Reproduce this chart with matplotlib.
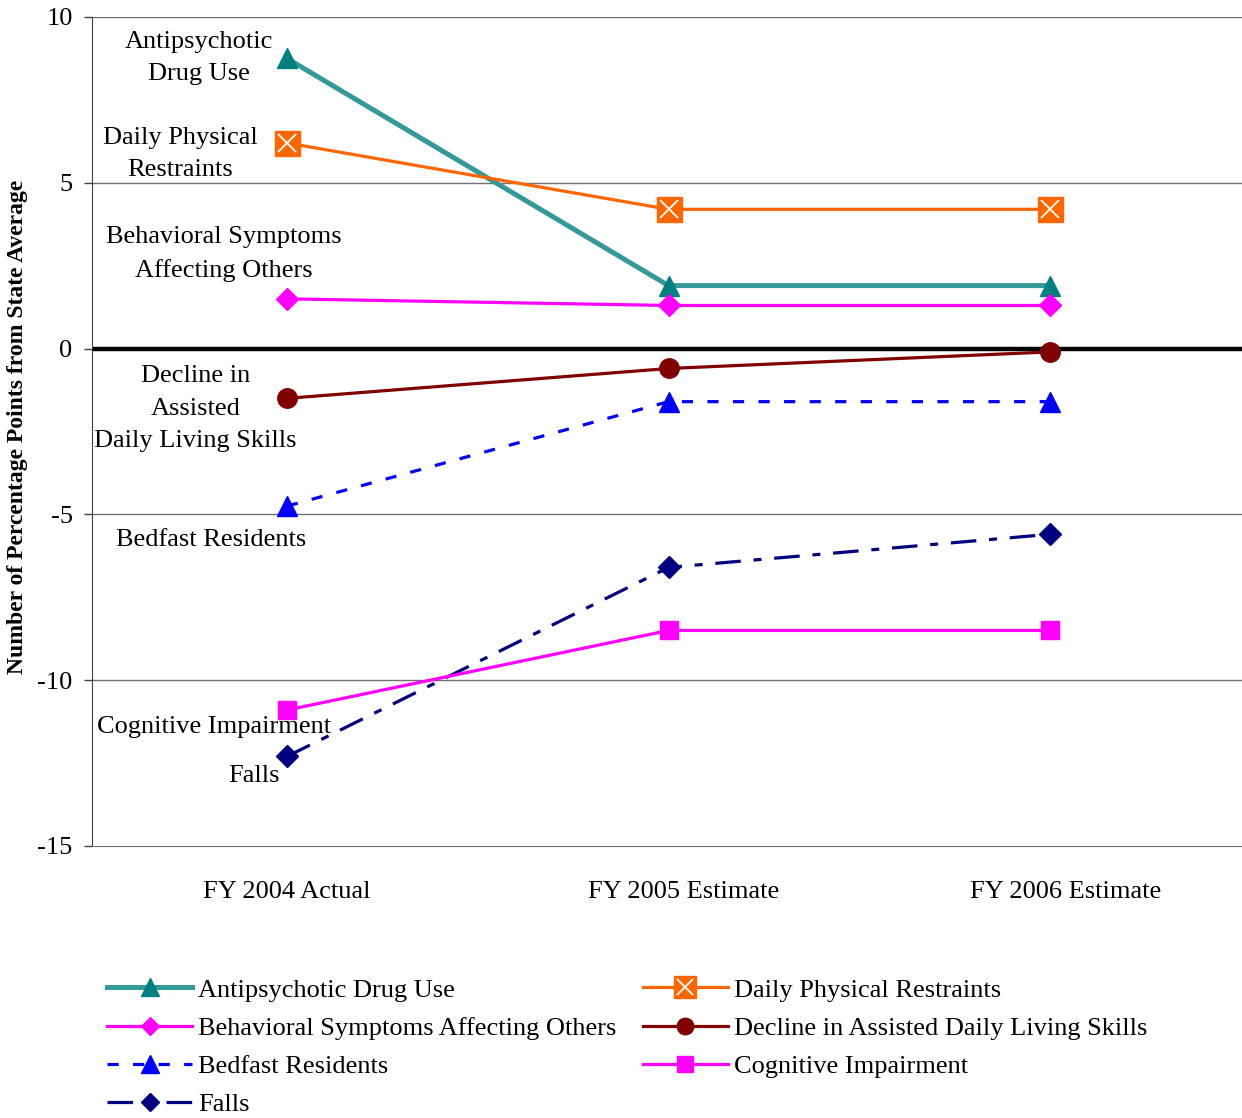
"""Nursing home quality indicators: percentage points from state average."""

import matplotlib
matplotlib.use("Agg")
import matplotlib.pyplot as plt
from matplotlib.legend_handler import HandlerTuple

categories = ["FY 2004 Actual", "FY 2005 Estimate", "FY 2006 Estimate"]

antipsychotic = [8.75, 1.9, 1.9]
restraints = [6.2, 4.2, 4.2]
behavioral = [1.5, 1.3, 1.3]
decline_adl = [-1.5, -0.6, -0.1]
bedfast = [-4.75, -1.6, -1.6]
falls = [-12.3, -6.6, -5.6]
cognitive = [-10.9, -8.5, -8.5]

y_ticks = [-15, -10, -5, 0, 5, 10]

# in-plot labels: text, x (category units), y (data units)
annotations = [
    ("Antipsychotic\nDrug Use", -0.23, 8.76),
    ("Daily Physical\nRestraints", -0.28, 5.87),
    ("Behavioral Symptoms\nAffecting Others", -0.165, 2.85),
    ("Decline in\nAssisted\nDaily Living Skills", -0.24, -1.82),
    ("Bedfast Residents", -0.2, -5.78),
    ("Cognitive Impairment", -0.19, -11.4),
    ("Falls", -0.087, -12.89),
]

plt.rcParams["font.family"] = ["Liberation Serif", "DejaVu Serif"]

FS = 19

fig = plt.figure(figsize=(12.42, 11.18), dpi=100)
ax = fig.add_axes([0.0741, 0.2433, 0.9259, 0.7415])

x = list(range(len(categories)))

ax.axhline(0, color="black", linewidth=3.2, zorder=1)
for yv in [-10, -5, 5, 10]:
    ax.axhline(yv, color="#707070", linewidth=1.0, zorder=0)

h_anti, = ax.plot(x, antipsychotic, color="#339999", linewidth=3.6, marker="^",
                  markersize=15, markerfacecolor="#008080", markeredgecolor="#008080",
                  zorder=3)
h_rest_sq, = ax.plot(x, restraints, color="#FF6600", linewidth=2.3, marker="s",
                     markersize=18, markerfacecolor="#FF6600", markeredgecolor="#FF6600",
                     zorder=3)
h_rest_x, = ax.plot(x, restraints, linestyle="none", marker="x", markersize=13,
                    markeredgecolor="white", markeredgewidth=1.3, zorder=4)
h_beh, = ax.plot(x, behavioral, color="#FF00FF", linewidth=2.3, marker="D",
                 markersize=11, markerfacecolor="#FF00FF", markeredgecolor="#FF00FF",
                 zorder=3)
h_dec, = ax.plot(x, decline_adl, color="#800000", linewidth=2.3, marker="o",
                 markersize=14, markerfacecolor="#800000", markeredgecolor="#800000",
                 zorder=3)
h_bed, = ax.plot(x, bedfast, color="#0000FF", linewidth=2.3, linestyle=(0, (3.5, 4.5)),
                 marker="^", markersize=15, markerfacecolor="#0000FF",
                 markeredgecolor="#0000FF", zorder=3)
h_falls, = ax.plot(x, falls, color="#000080", linewidth=2.3,
                   linestyle=(0, (8, 4, 2.5, 4)), marker="D", markersize=11,
                   markerfacecolor="#000080", markeredgecolor="#000080", zorder=3)
h_cog, = ax.plot(x, cognitive, color="#FF00FF", linewidth=2.3, marker="s",
                 markersize=13, markerfacecolor="#FF00FF", markeredgecolor="#FF00FF",
                 zorder=3)

for text, tx, ty in annotations:
    ax.text(tx, ty, text, ha="center", va="center", multialignment="center",
            fontsize=FS, linespacing=1.62, zorder=5)

ax.set_xlim(-0.511, 2.503)
ax.set_ylim(-15, 10)
ax.set_yticks(y_ticks)
ax.set_yticklabels([str(v) for v in y_ticks], fontsize=FS)
ax.set_xticks([0, 1.04, 2.04])
ax.set_xticklabels(categories, fontsize=FS)
ax.tick_params(axis="x", length=0, pad=25)
ax.tick_params(axis="y", length=6, width=1, color="#404040", pad=8)

for side in ["top", "right"]:
    ax.spines[side].set_visible(False)
ax.spines["left"].set_color("#404040")
ax.spines["bottom"].set_color("#707070")

ax.set_ylabel("Number of Percentage Points from State Average", fontsize=17,
              fontweight="bold")
ax.yaxis.set_label_coords(-0.056, 0.505)

handles = [h_anti, h_beh, h_bed, h_falls, (h_rest_sq, h_rest_x), h_dec, h_cog]
labels = [
    "Antipsychotic Drug Use",
    "Behavioral Symptoms Affecting Others",
    "Bedfast Residents",
    "Falls",
    "Daily Physical Restraints",
    "Decline in Assisted Daily Living Skills",
    "Cognitive Impairment",
]
fig.legend(handles, labels, loc="upper left", bbox_to_anchor=(0.078, 0.1345),
           bbox_transform=fig.transFigure, ncol=2, frameon=False, fontsize=FS,
           handlelength=3.2, handletextpad=0.25, columnspacing=1.0,
           labelspacing=0.56, markerscale=0.85, borderaxespad=0,
           handler_map={tuple: HandlerTuple(ndivide=1, pad=0)})

fig.savefig("out.png", dpi=100)
